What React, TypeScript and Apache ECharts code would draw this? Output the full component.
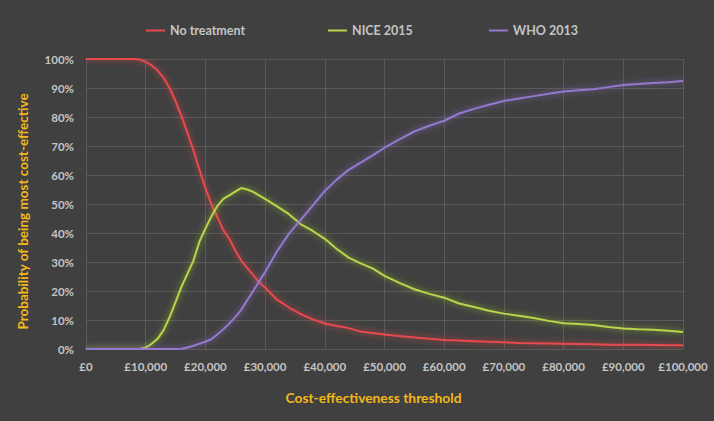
import React, { useEffect, useRef } from "react";
import * as echarts from "echarts";

const thresholds = [
  0, 2000, 4000, 6000, 8000, 9000, 10000, 11000, 12000, 13000, 14000, 15000,
  16000, 17000, 18000, 19000, 20000, 21000, 22000, 23000, 24000, 25000, 26000,
  27000, 28000, 29000, 30000, 32000, 34000, 36000, 38000, 40000, 42000, 44000,
  46000, 48000, 50000, 52500, 55000, 57500, 60000, 62500, 65000, 67500, 70000,
  72500, 75000, 77500, 80000, 82500, 85000, 87500, 90000, 92500, 95000, 97500,
  100000,
];

const noTreatment = [
  100, 100, 100, 100, 100, 99.8, 99, 97.8, 96, 93.5, 90, 85.5, 80.3, 74.5, 68.5,
  61.8, 55.5, 50, 45.5, 41, 38, 34, 30.5, 28, 25.5, 23, 21.2, 17, 14.3, 12,
  10.2, 8.8, 7.9, 7.2, 6.0, 5.5, 5.0, 4.5, 4.0, 3.5, 3.1, 2.9, 2.7, 2.5, 2.3,
  2.1, 2.0, 1.9, 1.8, 1.7, 1.6, 1.5, 1.5, 1.5, 1.4, 1.3, 1.3,
];

const nice2015 = [
  0, 0, 0, 0, 0, 0, 0.5, 1.8, 3.5, 6.5, 11, 16.2, 21.5, 26, 30.5, 37, 41.5,
  45.7, 49.3, 51.8, 53, 54.3, 55.5, 55, 54.2, 53, 51.8, 49.2, 46.5, 43, 40.7,
  38, 34.5, 31.5, 29.5, 27.8, 25.2, 22.8, 20.6, 19, 17.7, 15.7, 14.5, 13.2,
  12.2, 11.5, 10.7, 9.7, 8.9, 8.6, 8.3, 7.6, 7.1, 6.8, 6.6, 6.3, 5.9,
];

const who2013 = [
  0, 0, 0, 0, 0, 0, 0, 0, 0, 0, 0, 0, 0.1, 0.5, 1.1, 1.8, 2.5, 3.4, 5, 6.8,
  8.8, 11, 13.5, 16.8, 20, 23.3, 26.5, 33.7, 39.8, 44.6, 49.5, 54.5, 58.4,
  61.8, 64.3, 66.8, 69.4, 72.3, 75, 77, 78.7, 81.2, 82.8, 84.2, 85.5, 86.4,
  87.2, 88, 88.8, 89.2, 89.6, 90.3, 91, 91.4, 91.7, 92, 92.4,
];

const seriesNames = ["No treatment", "NICE 2015", "WHO 2013"];
const seriesValues = [noTreatment, nice2015, who2013];
const seriesColors = ["#e8494d", "#b9d54a", "#9479cf"];
const glowColors = [
  "rgba(255,70,70,0.75)",
  "rgba(160,210,40,0.8)",
  "rgba(150,120,220,0.7)",
];
const legendLefts = [141, 323, 484];

const FONT = "Lato, 'Open Sans', sans-serif";
const LABEL = "#c4c4c4";
const GOLD = "#f3b81b";

export default function App() {
  const ref = useRef<HTMLDivElement>(null);
  useEffect(() => {
    if (!ref.current) return;
    const chart = echarts.init(ref.current, undefined, { renderer: "svg" });
    const series = seriesNames.map((name, i) => ({
      name,
      type: "line",
      showSymbol: false,
      symbol: "none",
      data: thresholds.map((t, k) => [t, seriesValues[i][k] / 100]),
      lineStyle: {
        color: seriesColors[i],
        width: 2,
        shadowColor: glowColors[i],
        shadowBlur: 6,
      },
      itemStyle: { color: seriesColors[i] },
      z: 2 + i,
    }));
    chart.setOption({
      animation: false,
      backgroundColor: "#404040",
      textStyle: { fontFamily: FONT },
      legend: seriesNames.map((name, i) => ({
        data: [{ name, icon: "rect" }],
        left: legendLefts[i],
        top: 19,
        itemWidth: 19,
        itemHeight: 2,
        selectedMode: false,
        textStyle: {
          color: LABEL,
          fontFamily: FONT,
          fontWeight: "bold",
          fontSize: 12.5,
        },
      })),
      grid: { left: 86, right: 31, top: 59, bottom: 72 },
      xAxis: {
        type: "value",
        min: 0,
        max: 100000,
        interval: 10000,
        axisLine: { show: false },
        axisTick: { show: false },
        splitLine: { show: true, lineStyle: { color: "#5a5a5a", width: 1 } },
        axisLabel: {
          color: LABEL,
          fontFamily: FONT,
          fontWeight: "bold",
          fontSize: 11.5,
          margin: 11,
          formatter: (v: number) => "£" + v.toLocaleString("en-GB"),
        },
      },
      yAxis: {
        type: "value",
        min: 0,
        max: 1,
        interval: 0.1,
        axisLine: { show: false },
        axisTick: { show: false },
        splitLine: { show: true, lineStyle: { color: "#5a5a5a", width: 1 } },
        axisLabel: {
          color: LABEL,
          fontFamily: FONT,
          fontWeight: "bold",
          fontSize: 11.5,
          margin: 12,
          formatter: (v: number) => Math.round(v * 100) + "%",
        },
      },
      graphic: [
        {
          type: "text",
          x: 373.5,
          y: 397,
          style: {
            text: "Cost-effectiveness threshold",
            fill: GOLD,
            font: `bold 13.8px ${FONT}`,
            textAlign: "center",
            textVerticalAlign: "middle",
          },
        },
        {
          type: "text",
          x: 23,
          y: 211.5,
          rotation: Math.PI / 2,
          style: {
            text: "Probability of being most cost-effective",
            fill: GOLD,
            font: `bold 13.5px ${FONT}`,
            textAlign: "center",
            textVerticalAlign: "middle",
          },
        },
      ],
      series,
    });
    return () => chart.dispose();
  }, []);
  return (
    <div
      ref={ref}
      style={{ position: "fixed", left: 0, top: 0, width: 714, height: 421 }}
    />
  );
}
